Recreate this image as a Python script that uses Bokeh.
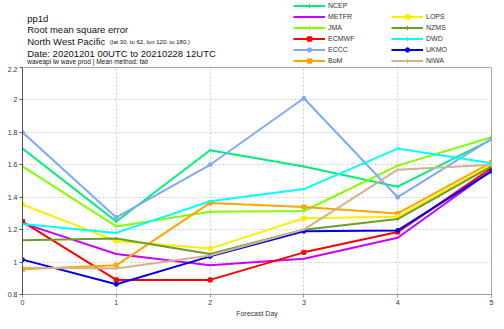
from bokeh.plotting import figure
from bokeh.layouts import column
from bokeh.models import (Legend, LegendItem, FixedTicker, CustomJSTickFormatter,
                          Range1d, ColumnDataSource)
from bokeh.core.properties import value
from bokeh.embed import file_html
from bokeh.resources import INLINE

days = [0, 1, 2, 3, 4, 5]
ncep  = [1.70, 1.25, 1.69, 1.59, 1.465, 1.755]
metfr = [1.24, 1.05, 0.98, 1.02, 1.15, 1.565]
jma   = [1.59, 1.22, 1.31, 1.315, 1.595, 1.77]
ecmwf = [1.25, 0.89, 0.89, 1.06, 1.185, 1.58]
eccc  = [1.80, 1.275, 1.60, 2.01, 1.40, 1.76]
bom   = [0.955, 0.98, 1.365, 1.34, 1.30, 1.615]
lops  = [1.355, 1.13, 1.083, 1.27, 1.28, 1.60]
nzms  = [1.135, 1.145, 1.05, 1.20, 1.265, 1.59]
dwd   = [1.235, 1.18, 1.375, 1.45, 1.70, 1.61]
ukmo  = [1.015, 0.863, 1.035, 1.19, 1.195, 1.56]
niwa  = [0.965, 0.96, 1.04, 1.20, 1.57, 1.60]

names = ["NCEP", "METFR", "JMA", "ECMWF", "ECCC", "BoM",
         "LOPS", "NZMS", "DWD", "UKMO", "NIWA"]
values = [ncep, metfr, jma, ecmwf, eccc, bom, lops, nzms, dwd, ukmo, niwa]
colors = ["#00ee76", "#cc00ff", "#80ff00", "#ff0000", "#80a8ff", "#ffa500",
          "#ffee00", "#6b9e2a", "#00ffff", "#0000ee", "#d2b48c"]
markers = ["cross", "dash", "cross", "square", "circle", "square",
           "square", "cross", "cross", "circle", "cross"]
msizes = [3, 3, 3, 4, 4, 4, 4, 3, 3, 4, 3]

title_lines = ["pp1d", "Root mean square error", "North West Pacific",
               "Date: 20201201 00UTC to 20210228 12UTC",
               "waveapi lw wave prod | Mean method: fair"]
title_sub = "(lat 30. to 62, lon 120. to 180.)"
x_label = "Forecast Day"
y_ticks = [0.8, 1.0, 1.2, 1.4, 1.6, 1.8, 2.0, 2.2]

FONT = "Liberation Sans"
NAN = float("nan")

# ---------- header (titles + legend) ----------
W = 494
HH = 66
h = figure(width=W, height=HH, output_backend="svg", toolbar_location=None,
           x_range=Range1d(0, W), y_range=Range1d(HH, 0),
           x_axis_type=None, y_axis_type=None,
           min_border_left=0, min_border_right=0, min_border_top=0, min_border_bottom=0)
h.outline_line_color = None
h.grid.visible = False

big = dict(text_font=value(FONT), text_font_size="9.5px", text_color="#111111",
           text_baseline="alphabetic", text_align="left")
h.text(x=[5, 5, 5, 5], y=[18, 29.3, 41, 52.7],
       text=[title_lines[0], title_lines[1], title_lines[2], title_lines[3]], **big)
h.text(x=[92], y=[41], text=[title_sub], text_font=value(FONT), text_font_size="6px",
       text_color="#111111", text_baseline="alphabetic")
h.text(x=[5], y=[61.3], text=[title_lines[4]], text_font=value(FONT),
       text_font_size="6.5px", text_color="#111111", text_baseline="alphabetic")

hitems = []
for name, col, mk, ms in zip(names, colors, markers, msizes):
    src = ColumnDataSource(dict(x=[NAN], y=[NAN]))
    r = h.line("x", "y", source=src, line_color=col, line_width=2)
    m = h.scatter("x", "y", source=src, marker=mk, size=max(ms - 1, 2),
                  line_color=col, fill_color=col)
    hitems.append(LegendItem(label=name, renderers=[r, m]))

common = dict(glyph_width=32, glyph_height=11, label_height=11, spacing=0, padding=0,
              margin=0, label_standoff=3, label_text_font=FONT,
              label_text_font_size="7px", label_text_color="#333333",
              background_fill_alpha=0, border_line_alpha=0)
leg1 = Legend(items=hitems[:6], location=(271, 0), **common)
leg2 = Legend(items=hitems[6:], location=(369, 0), **common)
h.add_layout(leg1)
h.add_layout(leg2)

# ---------- main plot ----------
p = figure(width=W, height=253, output_backend="svg", toolbar_location=None,
           x_range=Range1d(0, 5), y_range=Range1d(0.8, 2.2),
           min_border_left=22, min_border_right=3, min_border_top=1, min_border_bottom=20)

p.outline_line_color = "#aaaaaa"
p.outline_line_width = 1
for g in (p.xgrid, p.ygrid):
    g.grid_line_color = "#cccccc"
    g.grid_line_dash = "2 2"
    g.grid_line_width = 1

p.xaxis.ticker = FixedTicker(ticks=days)
p.yaxis.ticker = FixedTicker(ticks=y_ticks)
p.yaxis.formatter = CustomJSTickFormatter(code="return String(Math.round(tick*10)/10)")
for ax in (p.xaxis[0], p.yaxis[0]):
    ax.major_label_text_font = FONT
    ax.major_label_text_font_size = "7px"
    ax.major_label_text_color = "#333333"
    ax.major_tick_in = 0
    ax.major_tick_out = 3
    ax.minor_tick_line_color = None
    ax.major_label_standoff = 2
p.yaxis.axis_line_color = "#555555"
p.yaxis.major_tick_line_color = "#555555"
p.xaxis.axis_line_color = "#999999"
p.xaxis.major_tick_line_color = "#999999"
p.xaxis.axis_label = x_label
p.xaxis.axis_label_text_font = FONT
p.xaxis.axis_label_text_font_size = "7px"
p.xaxis.axis_label_text_font_style = "normal"
p.xaxis.axis_label_text_color = "#333333"
p.xaxis.axis_label_standoff = 2

for name, vals, col, mk, ms in zip(names, values, colors, markers, msizes):
    src = ColumnDataSource(dict(x=days, y=vals))
    p.line("x", "y", source=src, line_color=col, line_width=2)
    p.scatter("x", "y", source=src, marker=mk, size=ms, line_color=col, fill_color=col)

layout = column(h, p, spacing=0)
open("out.html", "w").write(file_html(layout, INLINE))
